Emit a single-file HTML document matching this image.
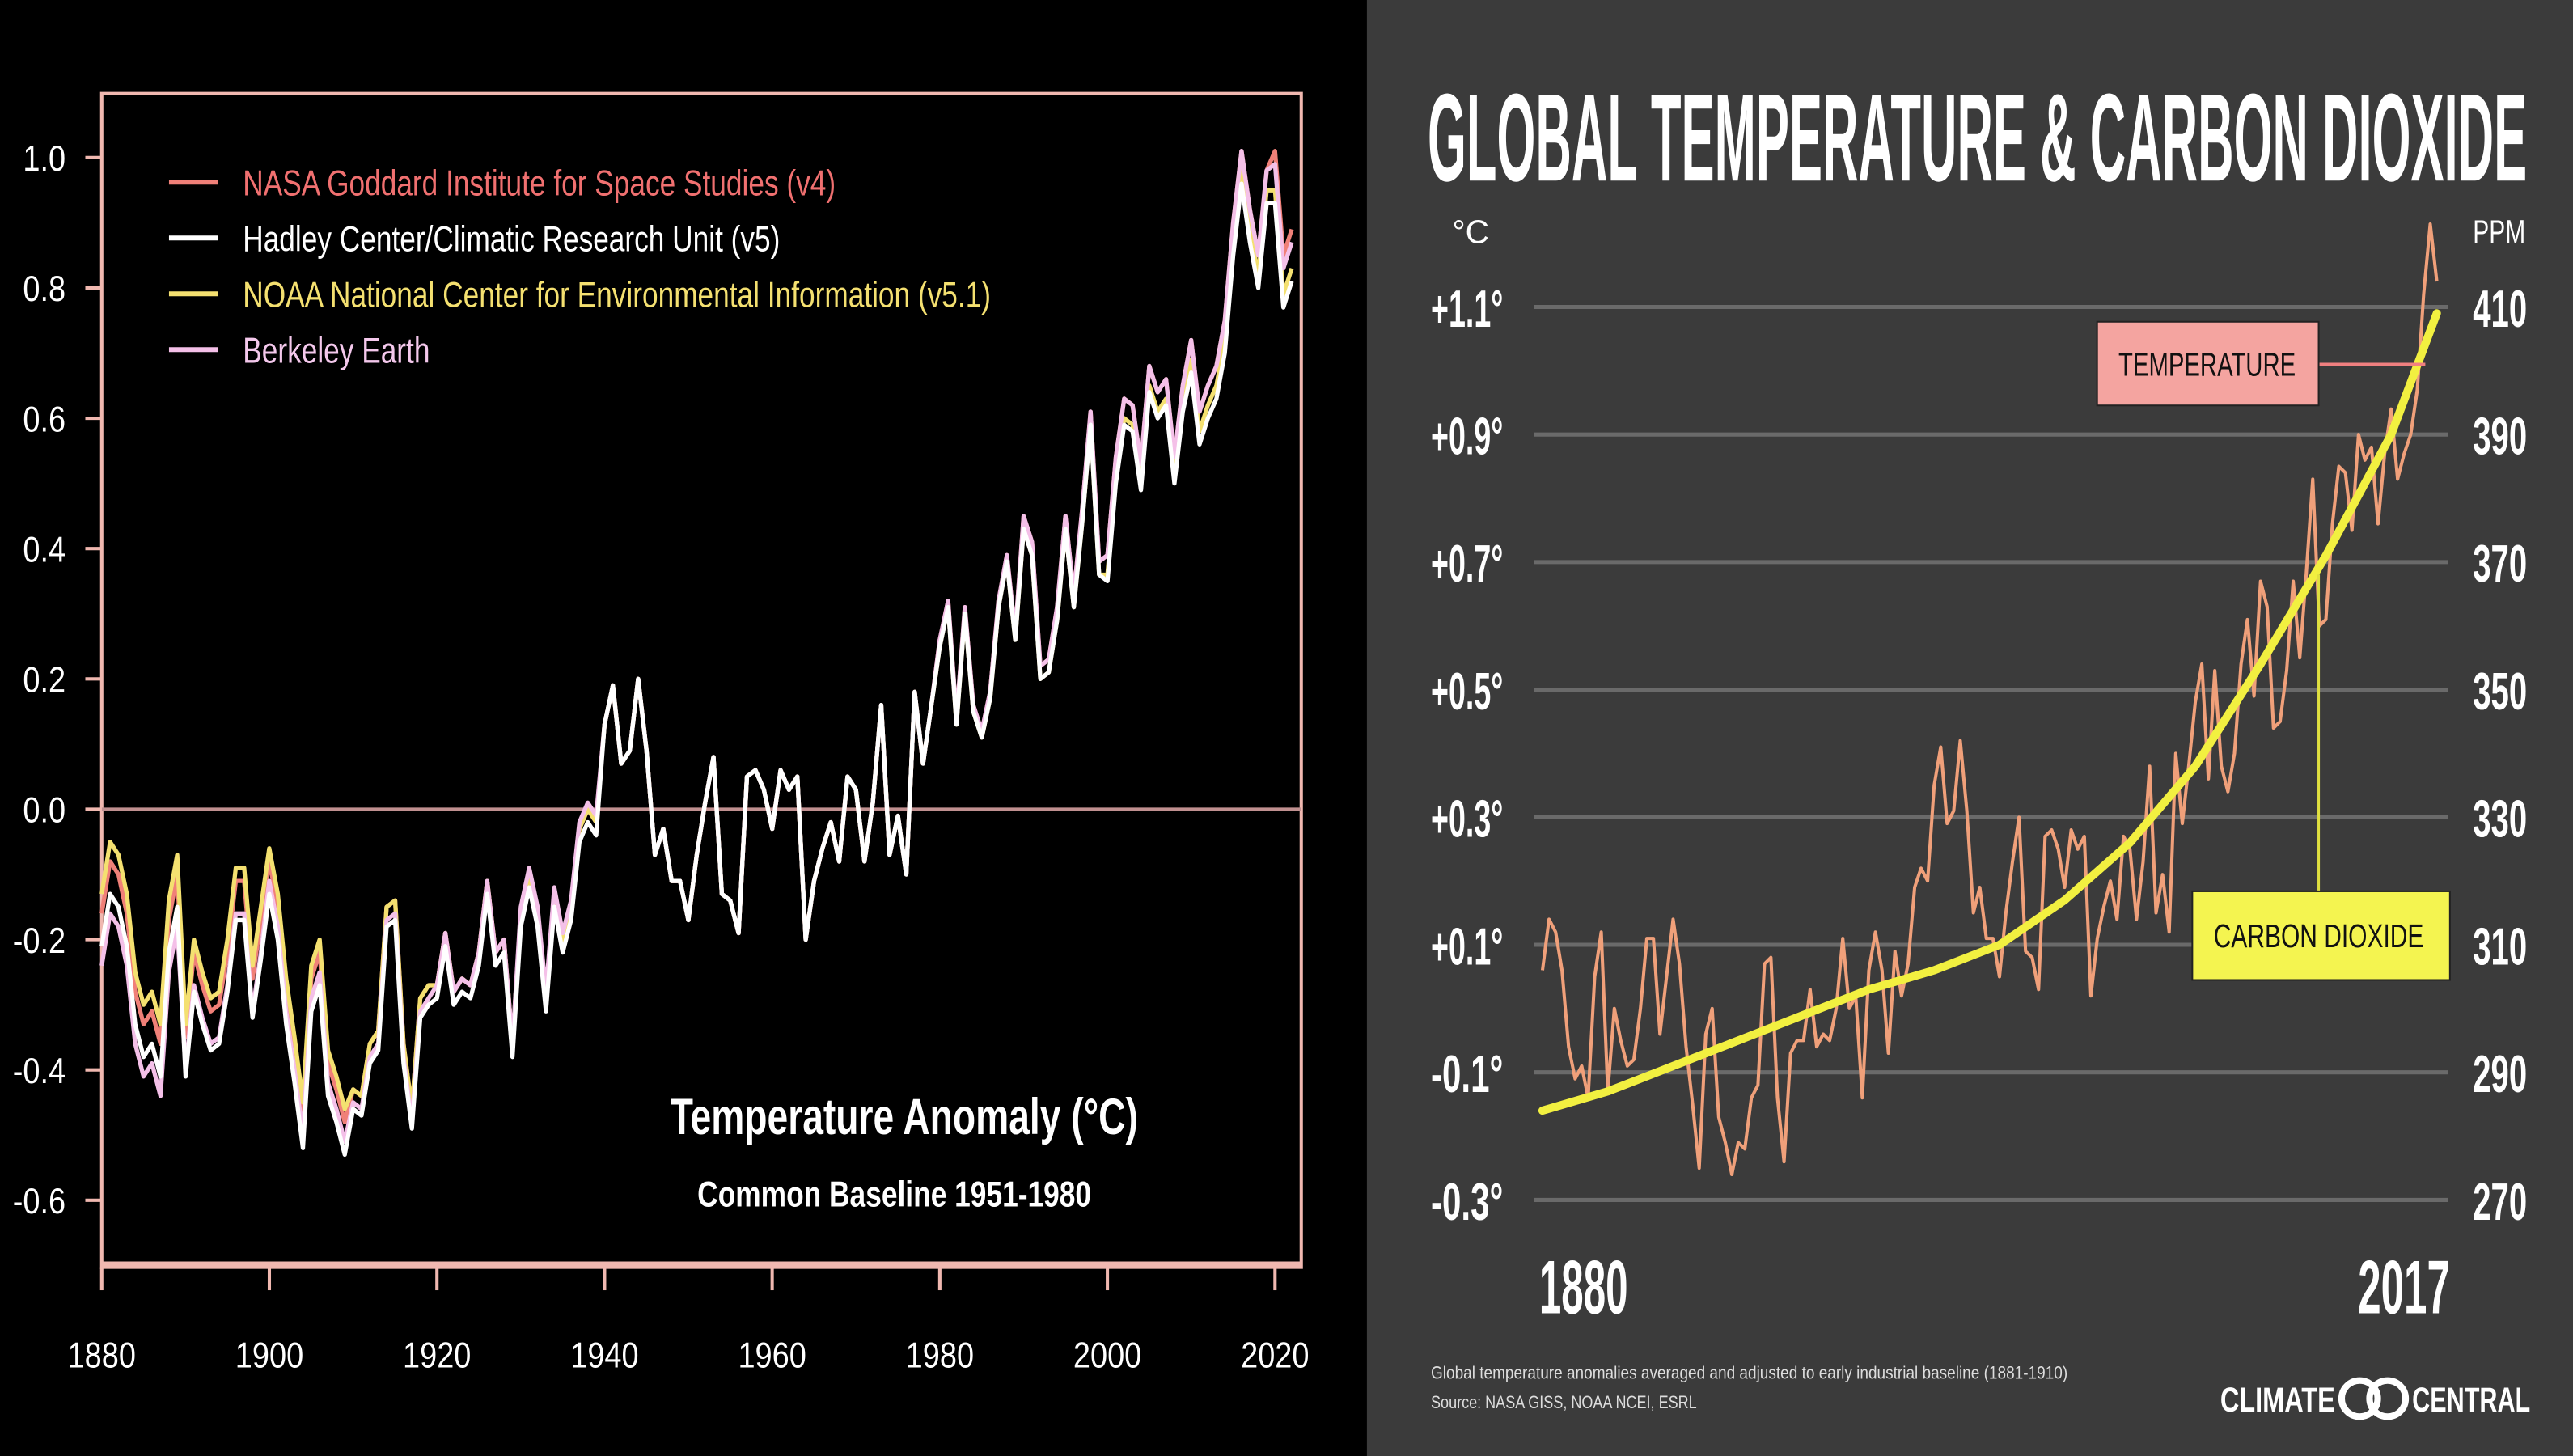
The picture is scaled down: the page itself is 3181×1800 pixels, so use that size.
<!DOCTYPE html>
<html><head><meta charset="utf-8"><style>
html,body{margin:0;padding:0;background:#000;}
svg{display:block;}
text{font-family:"Liberation Sans",sans-serif;}
</style></head>
<body>
<svg id="c" width="3181" height="1800" viewBox="0 0 1568 887" preserveAspectRatio="none" xmlns="http://www.w3.org/2000/svg">
<rect x="0" y="0" width="834" height="887" fill="#000"/>
<rect x="833" y="0" width="735" height="887" fill="#3b3b3b"/>
<g id="L"></g>
<g id="R"></g>
</svg>
<script>
// ---------- Data ----------
const years = [];
for (let y = 1880; y <= 2022; y++) years.push(y);
const gissValues = [-0.16,-0.08,-0.10,-0.16,-0.28,-0.33,-0.31,-0.36,-0.17,-0.10,
-0.35,-0.22,-0.27,-0.31,-0.30,-0.22,-0.11,-0.11,-0.26,-0.17,
-0.08,-0.15,-0.28,-0.37,-0.47,-0.26,-0.22,-0.39,-0.43,-0.48,
-0.43,-0.44,-0.36,-0.34,-0.15,-0.14,-0.36,-0.46,-0.29,-0.27,
-0.27,-0.19,-0.28,-0.26,-0.27,-0.22,-0.11,-0.22,-0.20,-0.36,
-0.16,-0.10,-0.16,-0.29,-0.13,-0.20,-0.15,-0.03,0.00,-0.02,
0.13,0.19,0.07,0.09,0.20,0.09,-0.07,-0.03,-0.11,-0.11,
-0.17,-0.07,0.01,0.08,-0.13,-0.14,-0.19,0.05,0.06,0.03,
-0.03,0.06,0.03,0.05,-0.20,-0.11,-0.06,-0.02,-0.08,0.05,
0.03,-0.08,0.01,0.16,-0.07,-0.01,-0.10,0.18,0.07,0.16,
0.26,0.32,0.14,0.31,0.16,0.12,0.18,0.32,0.39,0.27,
0.45,0.41,0.22,0.23,0.31,0.45,0.33,0.46,0.61,0.38,
0.39,0.54,0.63,0.62,0.53,0.68,0.64,0.66,0.54,0.65,
0.72,0.61,0.65,0.68,0.75,0.90,1.01,0.92,0.85,0.98,
1.01,0.85,0.89];
// per-decade differences from GISS (1880s..2020s)
const hadleyDiff   = [-0.05,-0.06,-0.05,-0.03,-0.02,-0.02,0.0,0.0,0.0,0.0,-0.01,-0.02,-0.04,-0.05,-0.08];
const noaaDiff     = [0.03,0.02,0.02,0.0,0.0,0.0,0.0,0.0,0.0,0.0,-0.01,-0.02,-0.03,-0.03,-0.06];
const berkeleyDiff = [-0.08,-0.05,-0.03,-0.02,0.0,0.01,0.0,0.0,0.0,0.0,0.0,0.0,0.0,0.0,-0.02];
const leftYTicks = [1.0,0.8,0.6,0.4,0.2,0.0,-0.2,-0.4,-0.6];
const leftYLabels = ["1.0","0.8","0.6","0.4","0.2","0.0","-0.2","-0.4","-0.6"];
const leftXTicks = [1880,1900,1920,1940,1960,1980,2000,2020];
const legendNames = ["NASA Goddard Institute for Space Studies (v4)","Hadley Center/Climatic Research Unit (v5)","NOAA National Center for Environmental Information (v5.1)","Berkeley Earth"];

// right chart
const rightEndYear = 2017;
const baselineShift = 0.22; // 1951-1980 -> 1881-1910 baseline
const co2Years = [1880,1890,1900,1910,1920,1930,1940,1950,1960,1970,1980,1990,2000,2010,2017];
const co2Values = [284,287,291,295,299,303,306,310,317,326,338,354,371,390,409];
const rightTempTicks = [1.1,0.9,0.7,0.5,0.3,0.1,-0.1,-0.3];
const rightTempLabels = ["+1.1°","+0.9°","+0.7°","+0.5°","+0.3°","+0.1°","-0.1°","-0.3°"];
const rightPpmLabels = ["410","390","370","350","330","310","290","270"];

// ---------- helpers ----------
const NS = "http://www.w3.org/2000/svg";
function mk(parent, tag, attrs, txt) {
  const e = document.createElementNS(NS, tag);
  for (const k in attrs) e.setAttribute(k, attrs[k]);
  if (txt !== undefined) e.textContent = txt;
  parent.appendChild(e);
  return e;
}
const L = document.getElementById('L');
const R = document.getElementById('R');

// ---------- Left chart ----------
const lx = yr => 62 + (yr - 1880) * (715 / 140);
const ly = v => 493 - v * 397;
const frameC = "#f0b8b0";
let e;
e = mk(L, 'rect', {x:62, y:57, width:731, height:715, fill:"none", stroke:frameC, 'stroke-width':2});


e = mk(L, 'line', {x1:62, x2:793, y1:ly(0), y2:ly(0), stroke:"#c09090", 'stroke-width':2});


e = mk(L, 'line', {x1:62, x2:793, y1:770, y2:770, stroke:frameC, 'stroke-width':3});


leftYTicks.forEach((v, i) => {
  e = mk(L, 'line', {x1:52, x2:62, y1:ly(v), y2:ly(v), stroke:frameC, 'stroke-width':2});
  
  
  e = mk(L, 'text', {x:40, y:ly(v)+8, fill:"#fff", 'font-size':22, 'text-anchor':"end", transform:`translate(40 0) scale(0.85 1) translate(-40 0)`}, leftYLabels[i]);
  
  
});
leftXTicks.forEach(yr => {
  e = mk(L, 'line', {x1:lx(yr), x2:lx(yr), y1:772, y2:786, stroke:frameC, 'stroke-width':2});
  
  
  e = mk(L, 'text', {x:lx(yr), y:833, fill:"#fff", 'font-size':22, 'text-anchor':"middle", transform:`translate(${lx(yr)} 0) scale(0.85 1) translate(${-lx(yr)} 0)`}, String(yr));
  
  
});
function seriesPts(diff) {
  return years.map((yr, i) => {
    const d = diff ? diff[Math.floor((yr - 1880) / 10)] : 0;
    return lx(yr).toFixed(1) + "," + ly(gissValues[i] + d).toFixed(1);
  }).join(" ");
}
const seriesDefs = [
  {diff:null, color:"#f08078", name:"series-nasa-giss"},
  {diff:noaaDiff, color:"#f4e070", name:"series-noaa-ncei"},
  {diff:berkeleyDiff, color:"#f4c0e8", name:"series-berkeley-earth"},
  {diff:hadleyDiff, color:"#ffffff", name:"series-hadley-cru"}
];
seriesDefs.forEach(s => {
  e = mk(L, 'polyline', {points:seriesPts(s.diff), fill:"none", stroke:s.color, 'stroke-width':2.6, 'stroke-linejoin':"round"});
  
  
});
const legendColors = ["#f08078","#ffffff","#f4e070","#f4c0e8"];
const legendTextColors = ["#f07070","#ffffff","#f4e070","#f4c8ec"];
legendNames.forEach((n, i) => {
  const y = 111 + i * 34;
  e = mk(L, 'line', {x1:103, x2:133, y1:y, y2:y, stroke:legendColors[i], 'stroke-width':3});
  
  
  e = mk(L, 'text', {x:148, y:y+8, fill:legendTextColors[i], 'font-size':22, transform:`translate(148 0) scale(0.79 1) translate(-148 0)`}, n);
  
  
});
e = mk(L, 'text', {x:551, y:691, fill:"#fff", 'font-size':31, 'font-weight':"bold", 'text-anchor':"middle", textLength:285, lengthAdjust:"spacingAndGlyphs"}, "Temperature Anomaly (°C)");


e = mk(L, 'text', {x:545, y:735, fill:"#fff", 'font-size':22, 'font-weight':"bold", 'text-anchor':"middle", textLength:240, lengthAdjust:"spacingAndGlyphs"}, "Common Baseline 1951-1980");



// ---------- Right chart ----------
const rx = yr => 940 + (yr - 1880) * (545 / 137);
const ry = v => 731 - (v + 0.3) * (544 / 1.4);
const rp = p => 731 - (p - 270) * (544 / 140);
e = mk(R, 'text', {x:870, y:110, fill:"#fff", 'font-size':76, 'font-weight':"bold", textLength:670, lengthAdjust:"spacingAndGlyphs"}, "GLOBAL TEMPERATURE & CARBON DIOXIDE");


e = mk(R, 'text', {x:885, y:148, fill:"#fff", 'font-size':20}, "°C");


e = mk(R, 'text', {x:1507, y:148, fill:"#fff", 'font-size':20, textLength:32, lengthAdjust:"spacingAndGlyphs"}, "PPM");


rightTempTicks.forEach((v, i) => {
  const y = ry(v);
  e = mk(R, 'line', {x1:935, x2:1492, y1:y, y2:y, stroke:"#6a6a6a", 'stroke-width':2.5});
  
  
  e = mk(R, 'text', {x:872, y:y+12, fill:"#fff", 'font-size':32, 'font-weight':"bold", textLength:44, lengthAdjust:"spacingAndGlyphs"}, rightTempLabels[i]);
  
  
  e = mk(R, 'text', {x:1507, y:y+12, fill:"#fff", 'font-size':32, 'font-weight':"bold", textLength:33, lengthAdjust:"spacingAndGlyphs"}, rightPpmLabels[i]);
  
  
});
e = mk(R, 'text', {x:938, y:800, fill:"#fff", 'font-size':46, 'font-weight':"bold", textLength:54, lengthAdjust:"spacingAndGlyphs"}, "1880");


e = mk(R, 'text', {x:1437, y:800, fill:"#fff", 'font-size':46, 'font-weight':"bold", textLength:56, lengthAdjust:"spacingAndGlyphs"}, "2017");


const tPts = [];
years.forEach((yr, i) => { if (yr <= rightEndYear) tPts.push(rx(yr).toFixed(1) + "," + ry(gissValues[i] + baselineShift).toFixed(1)); });
e = mk(R, 'polyline', {points:tPts.join(" "), fill:"none", stroke:"#f0a07a", 'stroke-width':2, 'stroke-linejoin':"round"});


const cPts = co2Years.map((yr, i) => rx(yr).toFixed(1) + "," + rp(co2Values[i]).toFixed(1)).join(" ");
e = mk(R, 'polyline', {points:cPts, fill:"none", stroke:"#f2f040", 'stroke-width':5, 'stroke-linejoin':"round", 'stroke-linecap':"round"});


// callouts
e = mk(R, 'line', {x1:1413, x2:1478, y1:222, y2:222, stroke:"#f08080", 'stroke-width':2});


e = mk(R, 'rect', {x:1278, y:196, width:135, height:51, fill:"#f4a4a0", stroke:"#222", 'stroke-width':1});


e = mk(R, 'text', {x:1345, y:229, fill:"#111", 'font-size':20, 'text-anchor':"middle", textLength:108, lengthAdjust:"spacingAndGlyphs"}, "TEMPERATURE");


e = mk(R, 'line', {x1:1413, x2:1413, y1:350, y2:543, stroke:"#e0e040", 'stroke-width':1.5});


e = mk(R, 'rect', {x:1336, y:543, width:157, height:54, fill:"#f4f450", stroke:"#222", 'stroke-width':1});


e = mk(R, 'text', {x:1413, y:577, fill:"#111", 'font-size':20, 'text-anchor':"middle", textLength:128, lengthAdjust:"spacingAndGlyphs"}, "CARBON DIOXIDE");


e = mk(R, 'text', {x:872, y:840, fill:"#ddd", 'font-size':11, textLength:388, lengthAdjust:"spacingAndGlyphs"}, "Global temperature anomalies averaged and adjusted to early industrial baseline (1881-1910)");


e = mk(R, 'text', {x:872, y:858, fill:"#ddd", 'font-size':11, textLength:162, lengthAdjust:"spacingAndGlyphs"}, "Source: NASA GISS, NOAA NCEI, ESRL");


e = mk(R, 'text', {x:1353, y:860, fill:"#fff", 'font-size':21, 'font-weight':"bold", textLength:70, lengthAdjust:"spacingAndGlyphs"}, "CLIMATE");


e = mk(R, 'circle', {cx:1438, cy:852, r:11, fill:"none", stroke:"#fff", 'stroke-width':4});


e = mk(R, 'circle', {cx:1455, cy:852, r:11, fill:"none", stroke:"#fff", 'stroke-width':4});


e = mk(R, 'text', {x:1470, y:860, fill:"#fff", 'font-size':21, 'font-weight':"bold", textLength:72, lengthAdjust:"spacingAndGlyphs"}, "CENTRAL");


</script>
</body></html>
